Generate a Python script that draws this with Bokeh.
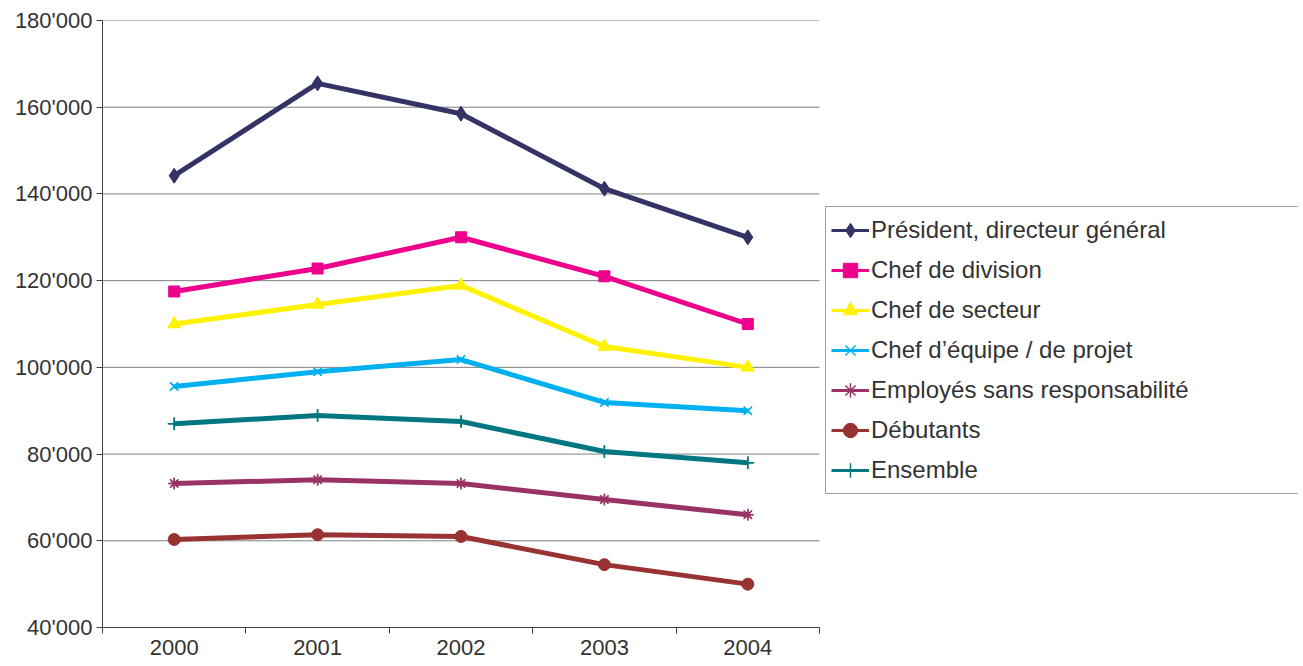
from bokeh.plotting import figure
from bokeh.models import Range1d, FixedTicker, Legend, LegendItem
from bokeh.embed import file_html
from bokeh.resources import INLINE

years = ["2000", "2001", "2002", "2003", "2004"]
president = [144200, 165500, 158500, 141200, 130000]
chef_division = [117500, 122800, 130000, 121000, 110000]
chef_secteur = [110000, 114500, 118900, 104800, 100000]
chef_equipe = [95600, 99000, 101800, 91900, 90000]
employes = [73200, 74100, 73200, 69500, 66000]
debutants = [60300, 61400, 61000, 54500, 50000]
ensemble = [87000, 88900, 87500, 80600, 78000]
y_ticks = [40000, 60000, 80000, 100000, 120000, 140000, 160000, 180000]

series = [
    ("Président, directeur général", president, "#333366", "diamond", 15),
    ("Chef de division", chef_division, "#EC008C", "square", 11),
    ("Chef de secteur", chef_secteur, "#FFF200", "triangle", 13),
    ("Chef d’équipe / de projet", chef_equipe, "#00B0F0", "x", 12),
    ("Employés sans responsabilité", employes, "#993366", "asterisk", 12),
    ("Débutants", debutants, "#993333", "circle", 12),
    ("Ensemble", ensemble, "#007780", "cross", 13),
]

FONT = "Liberation Sans"
TXT = "#333333"

# layout (pixels)
LEFT, TOP = 102, 20
PLOT_W, PLOT_H = 717, 607          # area covered by the data / axes
FRAME_W = 1196                     # frame also hosts the legend on the right
n = len(years)
x_end = n * FRAME_W / PLOT_W

p = figure(frame_width=FRAME_W, frame_height=PLOT_H, output_backend="svg",
           toolbar_location=None,
           x_range=Range1d(0, x_end), y_range=Range1d(y_ticks[0], y_ticks[-1]),
           min_border_left=LEFT, min_border_top=TOP, min_border_right=0,
           min_border_bottom=36)
p.outline_line_color = None
p.background_fill_color = "white"
p.xgrid.grid_line_color = None
p.ygrid.grid_line_color = None

# horizontal grid lines, limited to the data area
p.segment(x0=[0] * len(y_ticks), x1=[n] * len(y_ticks), y0=y_ticks, y1=y_ticks,
          line_color="#808080", line_width=1)

xs = [i + 0.5 for i in range(n)]

items = []
for name, vals, color, marker, size in series:
    mw = 1.5 if marker in ("x", "asterisk", "cross") else 1
    # legend key renderers (thinner line, smaller marker), hidden under the main ones
    ll = p.line(xs, vals, line_color=color, line_width=3)
    ls = p.scatter(xs, vals, marker=marker, size=size - 2, fill_color=color,
                   line_color=color, line_width=mw)
    p.line(xs, vals, line_color=color, line_width=5, line_join="round")
    p.scatter(xs, vals, marker=marker, size=size, fill_color=color,
              line_color=color, line_width=mw)
    items.append(LegendItem(label=name, renderers=[ll, ls]))

# x axis
xa = p.xaxis[0]
xa.bounds = (0, n)
xa.ticker = FixedTicker(ticks=xs, minor_ticks=list(range(n + 1)))
xa.major_label_overrides = {x: y for x, y in zip(xs, years)}
xa.major_tick_line_color = None
xa.major_tick_out = 6
xa.major_tick_in = 0
xa.minor_tick_out = 6
xa.minor_tick_in = 0
xa.minor_tick_line_color = "#404040"
xa.axis_line_color = "#404040"
xa.major_label_standoff = 6
xa.major_label_text_font = FONT
xa.major_label_text_font_size = "22px"
xa.major_label_text_color = TXT

# y axis
ya = p.yaxis[0]
ya.ticker = FixedTicker(ticks=y_ticks, minor_ticks=[])
ya.major_label_overrides = {t: f"{t:,}".replace(",", "'") for t in y_ticks}
ya.major_tick_out = 6
ya.major_tick_in = 0
ya.major_tick_line_color = "#404040"
ya.minor_tick_line_color = None
ya.axis_line_color = "#404040"
ya.major_label_standoff = 4
ya.major_label_text_font = FONT
ya.major_label_text_font_size = "22px"
ya.major_label_text_color = TXT

legend = Legend(items=items, location=(PLOT_W + 6, 133), margin=0, padding=5,
                glyph_width=38, glyph_height=36, label_height=36, label_width=423,
                label_standoff=2, spacing=4,
                label_text_font=FONT, label_text_font_size="24px",
                label_text_color=TXT, label_text_baseline="middle",
                border_line_color="#404040", border_line_width=1,
                background_fill_color="white", background_fill_alpha=1.0)
p.add_layout(legend)

open("out.html", "w").write(file_html(p, INLINE))
